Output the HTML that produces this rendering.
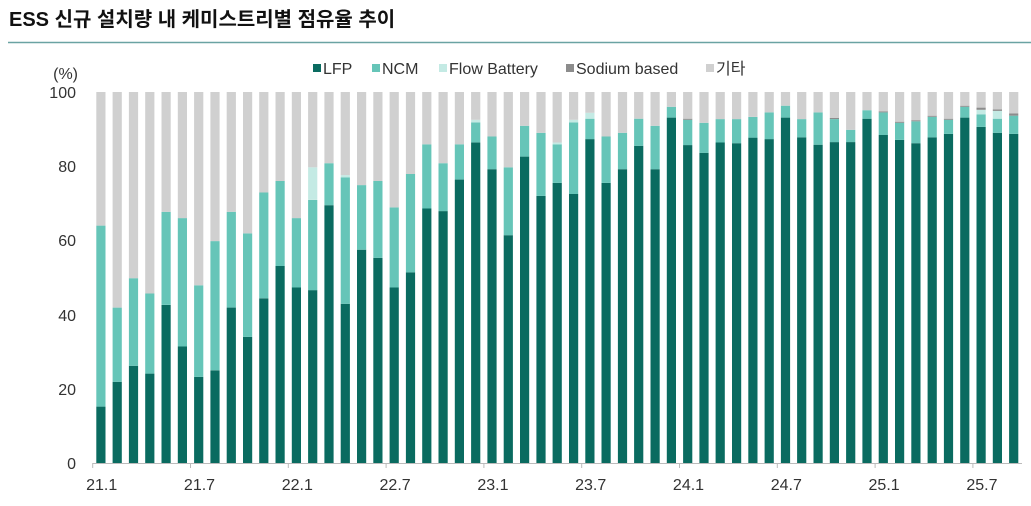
<!DOCTYPE html>
<html><head><meta charset="utf-8"><style>
html,body{margin:0;padding:0;background:#fff;}
svg{display:block;font-family:"Liberation Sans","Noto Sans CJK KR",sans-serif;}
</style></head><body>
<svg id="s" width="1031" height="506" viewBox="0 0 1031 506" xmlns="http://www.w3.org/2000/svg">
<text x="9" y="26" font-size="20" font-weight="bold" fill="#111">ESS 신규 설치량 내 케미스트리별 점유율 추이</text>
<line x1="8" y1="42.5" x2="1031" y2="42.5" stroke="#6aa3a3" stroke-width="1.5"/>
<g font-size="16" fill="#333">
<rect x="313" y="64" width="8" height="8" fill="#0a6b60"/><text x="323" y="74">LFP</text>
<rect x="372" y="64" width="8" height="8" fill="#66c5b8"/><text x="382" y="74">NCM</text>
<rect x="439" y="64" width="8" height="8" fill="#c4eae4"/><text x="449" y="74">Flow Battery</text>
<rect x="566" y="64" width="8" height="8" fill="#8c8c8c"/><text x="576" y="74">Sodium based</text>
<rect x="706" y="64" width="8" height="8" fill="#d0d0d0"/><text x="716" y="74">기타</text>
</g>
<g font-size="16" fill="#333" text-anchor="end">
<text x="78" y="79">(%)</text>
<text x="76" y="98">100</text><text x="76" y="172">80</text><text x="76" y="246">60</text>
<text x="76" y="321">40</text><text x="76" y="395">20</text><text x="76" y="469">0</text>
</g>
<g id="bars"></g>
<line x1="92.5" y1="463.5" x2="1022" y2="463.5" stroke="#bbb" stroke-width="1"/>
<g id="xl" font-size="16" fill="#333" text-anchor="middle"></g>
</svg>
<script>
var d=[[15.2,64],[21.9,41.9],[26.2,49.8],[24.1,45.7],[42.6,67.7],[31.4,66],[23.2,47.9],[25,59.8],[41.9,67.7],[34,61.9],
[44.4,72.9],[53.1,76],[47.3,66],[46.6,70.9,79.7],[69.5,80.8],[42.9,77,77.6],[57.5,74.9],[55.3,76],[47.3,68.9],[51.4,77.9],
[68.6,85.9],[67.9,80.8],[76.4,85.9],[86.4,91.8,92.5],[79.2,88],[61.4,79.7],[82.6,90.9],[72,89],[75.5,85.9,86.4],[72.5,91.8,92.5],
[87.3,92.8,94.4],[75.5,88],[79.2,89],[85.5,92.8],[79.2,90.9],[93.1,96],[85.7,92.5,92.5,92.8],[83.6,91.7],[86.4,92.7],[86.2,92.7],
[87.7,93.3],[87.3,94.5],[93.1,96.3],[87.8,92.7],[85.8,94.5],[86.5,92.7,92.7,93],[86.5,89.8],[92.8,95.1],[88.4,94.5,94.5,94.8],[87.1,91.7,91.7,92],
[86.2,92.1,92.1,92.4],[87.8,93.3,93.3,93.6],[88.7,92.5,92.5,92.8],[93.1,96,96,96.3],[90.6,94,95.2,95.8],[89,92.8,94.9,95.3],[88.7,93.6,93.6,94.2]];
var cols=["#0a6b60","#66c5b8","#c4eae4","#8c8c8c","#d0d0d0"];
var Y=function(v){return 463-v*3.71;};
var h="";
d.forEach(function(r,i){
 var x=92.7+16.3*i+8.15-4.6;
 var c=[r[0],r[1],r[2]||r[1],r[3]||r[2]||r[1],100];
 var prev=0;
 for(var k=0;k<5;k++){var v=c[k];if(v>prev+0.01){h+='<rect x="'+x.toFixed(1)+'" y="'+Y(v).toFixed(1)+'" width="9.2" height="'+((v-prev)*3.71).toFixed(1)+'" fill="'+cols[k]+'"/>';}prev=Math.max(prev,v);}
});
document.getElementById("bars").innerHTML=h;
var labs=["21.1","21.7","22.1","22.7","23.1","23.7","24.1","24.7","25.1","25.7"],t="";
labs.forEach(function(l,i){var x=92.7+16.3*6*i;t+='<line x1="'+x+'" y1="463" x2="'+x+'" y2="468" stroke="#bbb"/><text x="'+(x+9)+'" y="490">'+l+'</text>';});
document.getElementById("xl").innerHTML=t;
</script>
</body></html>
